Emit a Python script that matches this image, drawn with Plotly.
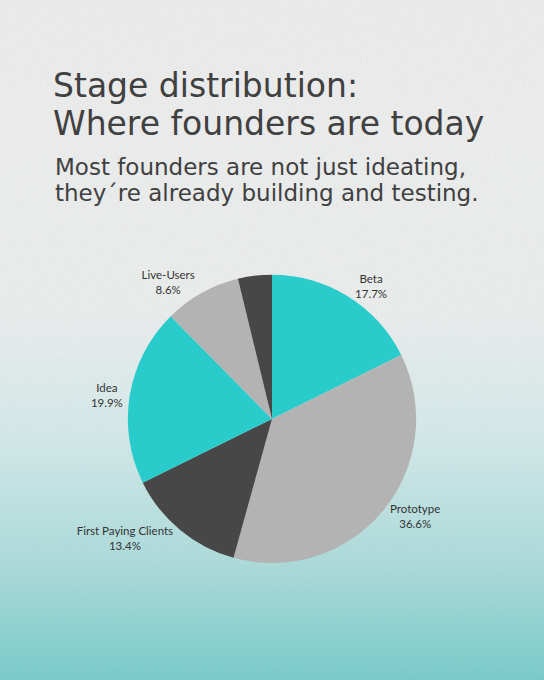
import urllib.parse
import plotly.graph_objects as go

# ---- data ----
stages = ["Beta", "Prototype", "First Paying Clients", "Idea", "Live-Users", "Other"]
shares = [17.7, 36.6, 13.4, 19.9, 8.6, 3.8]
show_label = [True, True, True, True, True, False]

title_lines = ["Stage distribution:", "Where founders are today"]
subtitle_lines = ["Most founders are not just ideating,", "they\u00b4re already building and testing."]

# ---- style ----
TEAL = "#29cbcb"
LIGHT = "#b3b3b3"
DARK = "#474747"
slice_colors = [TEAL, LIGHT, DARK, TEAL, LIGHT, DARK]
TEXT = "#404040"
W, H = 544, 680

bg_svg = (
    '<svg xmlns="http://www.w3.org/2000/svg" width="544" height="680" viewBox="0 0 544 680">'
    '<defs><linearGradient id="g" x1="0" y1="0" x2="0" y2="1">'
    '<stop offset="0" stop-color="#f0f0f0"/>'
    '<stop offset="0.46" stop-color="#eff1f1"/>'
    '<stop offset="0.64" stop-color="#d6eded"/>'
    '<stop offset="0.83" stop-color="#acdedd"/>'
    '<stop offset="1" stop-color="#76cdcd"/>'
    '</linearGradient>'
    '<filter id="n" x="0" y="0" width="1" height="1">'
    '<feTurbulence type="fractalNoise" baseFrequency="0.7" numOctaves="2" seed="3"/>'
    '<feColorMatrix type="matrix" values="0 0 0 0 0.35  0 0 0 0 0.35  0 0 0 0 0.35  0 0 0 0.16 0"/>'
    '</filter></defs>'
    '<rect width="544" height="680" fill="url(#g)"/>'
    '<rect width="544" height="680" filter="url(#n)"/>'
    '</svg>'
)
bg_uri = "data:image/svg+xml;charset=utf-8," + urllib.parse.quote(bg_svg)

templates = ["%{label}<br>%{value:.1f}%" if s else "" for s in show_label]

fig = go.Figure(go.Pie(
    labels=stages,
    values=shares,
    sort=False,
    direction="clockwise",
    rotation=0,
    marker=dict(colors=slice_colors, line=dict(width=0)),
    texttemplate=templates,
    textposition="outside",
    outsidetextfont=dict(family="Lato", size=11.5, color="#333333"),
    showlegend=False,
    automargin=False,
    hoverinfo="label+percent",
    domain=dict(x=[0.1, 0.9], y=[0.172, 0.596]),
))

def line_ann(text, x_px, y_px, size):
    return dict(text=text, x=x_px / W, y=1 - y_px / H, xref="paper", yref="paper",
                xanchor="left", yanchor="middle", align="left", showarrow=False,
                font=dict(family="DejaVu Sans", size=size, color=TEXT))

annotations = [
    line_ann(title_lines[0], 51, 85, 33),
    line_ann(title_lines[1], 51, 123, 33),
    line_ann(subtitle_lines[0], 53, 167, 23),
    line_ann(subtitle_lines[1], 53, 193, 23),
]

fig.update_layout(
    width=W, height=H,
    margin=dict(l=0, r=0, t=0, b=0, pad=0, autoexpand=False),
    paper_bgcolor="#eef0f0",
    images=[dict(source=bg_uri, xref="paper", yref="paper", x=0, y=1, sizex=1, sizey=1,
                 xanchor="left", yanchor="top", sizing="stretch", layer="below")],
    annotations=annotations,
)

fig.write_html("out.html", config={"displayModeBar": False},
               post_script="document.body.style.margin='0';")
